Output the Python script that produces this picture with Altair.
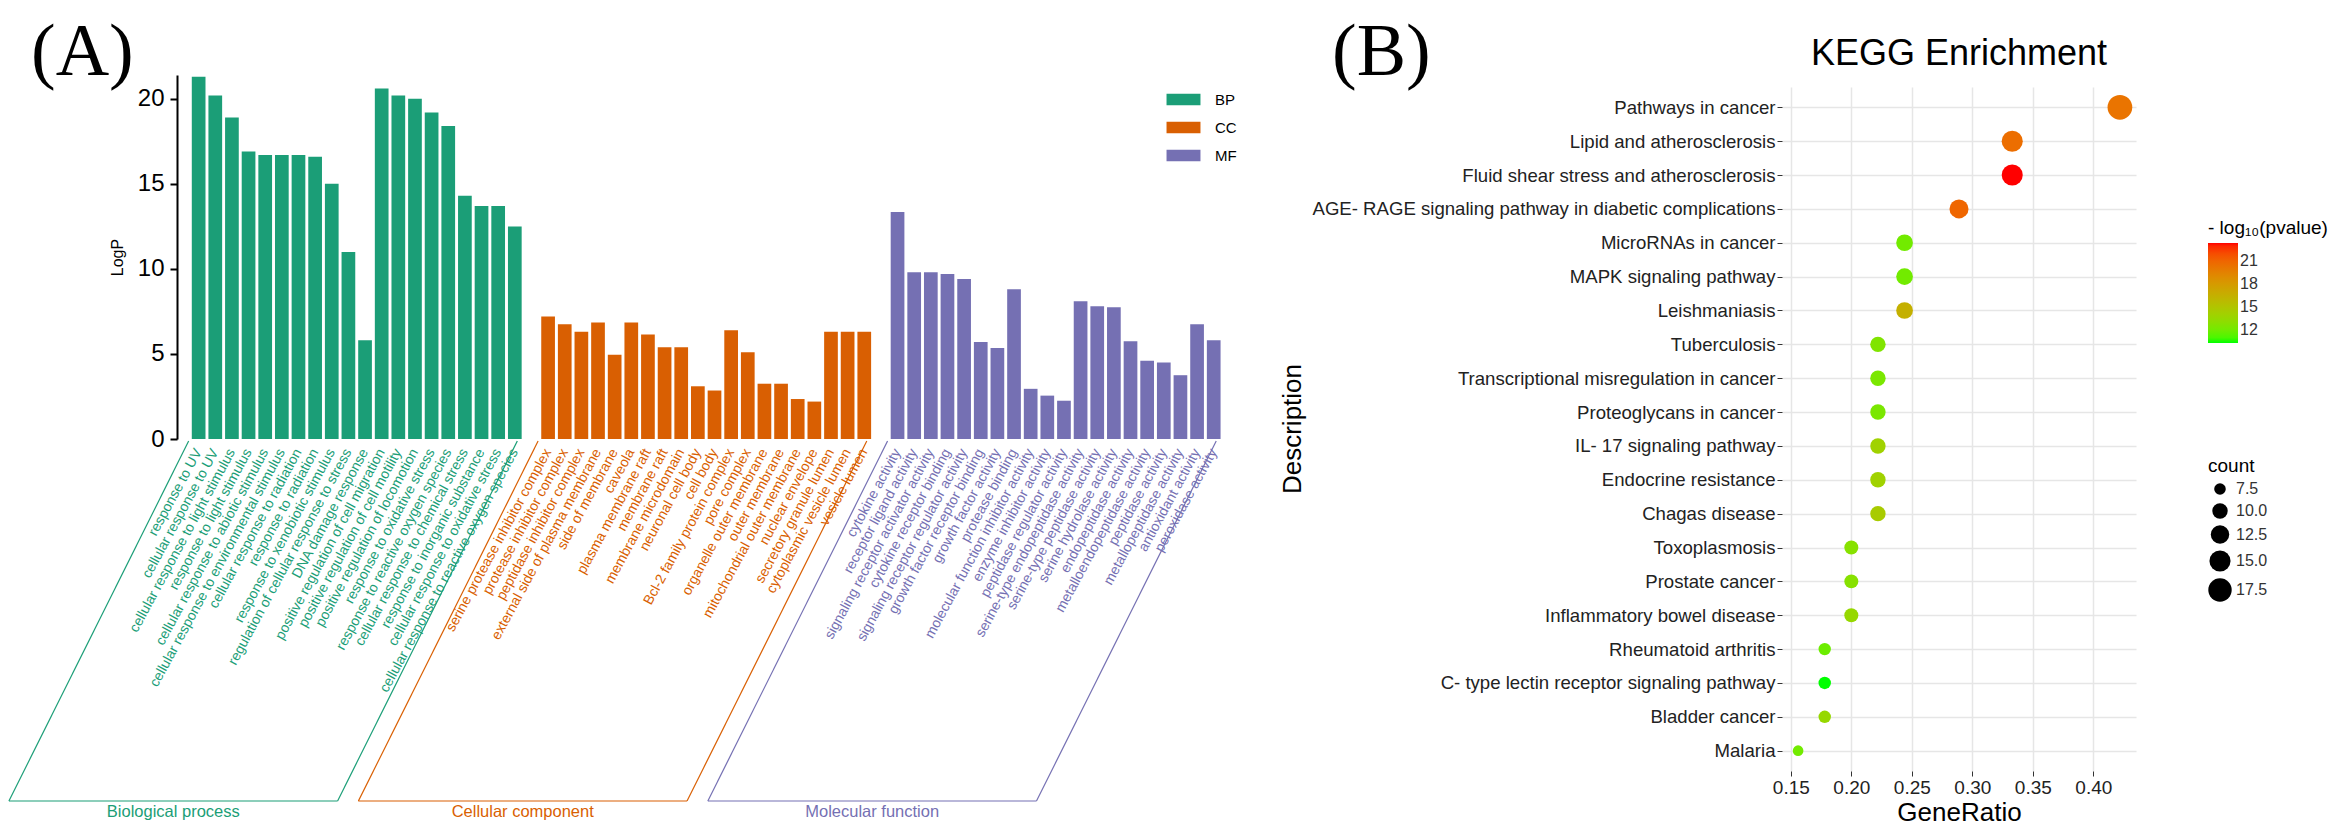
import altair as alt
import pandas as pd

# ---------------- Panel A : GO enrichment bars ----------------
bp_terms = ["response to UV", "cellular response to UV", "cellular response to light stimulus",
            "response to light stimulus", "cellular response to abiotic stimulus",
            "cellular response to environmental stimulus", "cellular response to radiation",
            "response to radiation", "response to xenobiotic stimulus",
            "regulation of cellular response to stress", "DNA damage response",
            "positive regulation of cell migration", "positive regulation of cell motility",
            "positive regulation of locomotion", "response to oxidative stress",
            "response to reactive oxygen species", "cellular response to chemical stress",
            "response to inorganic substance", "cellular response to oxidative stress",
            "cellular response to reactive oxygen species"]
bp_logp = [21.3, 20.2, 18.9, 16.9, 16.7, 16.7, 16.7, 16.6, 15.0, 11.0,
           5.8, 20.6, 20.2, 20.0, 19.2, 18.4, 14.3, 13.7, 13.7, 12.5]

cc_terms = ["serine protease inhibitor complex", "protease inhibitor complex",
            "peptidase inhibitor complex", "external side of plasma membrane", "side of membrane",
            "caveola", "plasma membrane raft", "membrane raft", "membrane microdomain",
            "neuronal cell body", "cell body", "Bcl-2 family protein complex", "pore complex",
            "organelle outer membrane", "outer membrane", "mitochondrial outer membrane",
            "nuclear envelope", "secretory granule lumen", "cytoplasmic vesicle lumen",
            "vesicle lumen"]
cc_logp = [7.2, 6.75, 6.3, 6.85, 4.95, 6.85, 6.15, 5.4, 5.4, 3.1,
           2.85, 6.4, 5.1, 3.25, 3.25, 2.35, 2.2, 6.3, 6.3, 6.3]

mf_terms = ["cytokine activity", "receptor ligand activity", "signaling receptor activator activity",
            "cytokine receptor binding", "signaling receptor regulator activity",
            "growth factor receptor binding", "growth factor activity", "protease binding",
            "molecular function inhibitor activity", "enzyme inhibitor activity",
            "peptidase regulator activity", "serine-type endopeptidase activity",
            "serine-type peptidase activity", "serine hydrolase activity", "endopeptidase activity",
            "metalloendopeptidase activity", "peptidase activity", "metallopeptidase activity",
            "antioxidant activity", "peroxidase activity"]
mf_logp = [13.35, 9.8, 9.8, 9.7, 9.4, 5.7, 5.35, 8.8, 2.95, 2.55,
           2.25, 8.1, 7.8, 7.75, 5.75, 4.6, 4.5, 3.75, 6.75, 5.8]

go_groups = ["BP", "CC", "MF"]
go_group_names = ["Biological process", "Cellular component", "Molecular function"]
go_colors = ["#1B9E77", "#D95F02", "#7570B3"]
y_ticks_a = [0, 5, 10, 15, 20]

# ---------------- Panel B : KEGG dot plot ----------------
kegg_terms = ["Pathways in cancer", "Lipid and atherosclerosis",
              "Fluid shear stress and atherosclerosis",
              "AGE- RAGE signaling pathway in diabetic complications", "MicroRNAs in cancer",
              "MAPK signaling pathway", "Leishmaniasis", "Tuberculosis",
              "Transcriptional misregulation in cancer", "Proteoglycans in cancer",
              "IL- 17 signaling pathway", "Endocrine resistance", "Chagas disease",
              "Toxoplasmosis", "Prostate cancer", "Inflammatory bowel disease",
              "Rheumatoid arthritis", "C- type lectin receptor signaling pathway",
              "Bladder cancer", "Malaria"]
kegg_ratio = [0.422, 0.333, 0.333, 0.289, 0.244, 0.244, 0.244, 0.222, 0.222, 0.222,
              0.222, 0.222, 0.222, 0.200, 0.200, 0.200, 0.178, 0.178, 0.178, 0.156]
kegg_count = [19, 15, 15, 13, 11, 11, 11, 10, 10, 10, 10, 10, 10, 9, 9, 9, 8, 8, 8, 7]
kegg_mlogp = [20.3, 20.6, 23.4, 21.0, 12.0, 12.0, 16.5, 12.5, 12.3, 12.3,
              14.0, 14.0, 14.5, 12.8, 12.8, 13.5, 11.8, 10.3, 13.5, 12.0]
x_ticks_b = [0.15, 0.20, 0.25, 0.30, 0.35, 0.40]
color_ticks_b = [12, 15, 18, 21]
size_ticks_b = [7.5, 10.0, 12.5, 15.0, 17.5]

FONT = "Liberation Sans"
SERIF = "Liberation Serif"

# ---- build GO table (one empty slot between categories)
rows, brackets = [], []
pos = 0
for g, name, terms, vals in zip(go_groups, go_group_names,
                                [bp_terms, cc_terms, mf_terms], [bp_logp, cc_logp, mf_logp]):
    first = pos
    for t, v in zip(terms, vals):
        rows.append({"group": g, "term": t, "logp": v, "pos": pos})
        pos += 1
    brackets.append({"group": g, "name": name, "first": first, "last": pos - 1})
    pos += 1
go_df = pd.DataFrame(rows)
br_df = pd.DataFrame(brackets)

A_W, A_H = 1075, 352
color_a = alt.Scale(domain=go_groups, range=go_colors)
xs_a = alt.Scale(domain=[-1, pos], nice=False, zero=False)
ys_a = alt.Scale(domain=[0, 21.4], range=[A_H, -12], nice=False)

bars = alt.Chart(go_df).mark_bar(size=13.7).encode(
    x=alt.X("pos:Q", scale=xs_a,
            axis=alt.Axis(values=go_df["pos"].tolist(), labels=False, title=None, grid=False,
                          tickSize=7, tickWidth=2, tickColor="black", domainWidth=2,
                          domainColor="black")),
    y=alt.Y("logp:Q", scale=ys_a,
            axis=alt.Axis(values=y_ticks_a, title="LogP", titleFontSize=16,
                          titleFontWeight="normal", titleColor="black", titlePadding=12,
                          labelFontSize=24, labelColor="black", labelPadding=6, grid=False,
                          tickSize=7, tickWidth=2, tickColor="black", domainWidth=2,
                          domainColor="black")),
    color=alt.Color("group:N", scale=color_a,
                    legend=alt.Legend(title=None, orient="none", legendX=999, legendY=5,
                                      symbolType="M-2.9,-1H2.9V1H-2.9Z", symbolSize=137,
                                      symbolStrokeWidth=0, labelFontSize=15, labelColor="black",
                                      labelOffset=24, rowPadding=12, padding=0)),
)

labels_a = alt.Chart(go_df).mark_text(angle=298.5, align="right", baseline="middle",
                                      fontSize=14, font=FONT).encode(
    x=alt.X("pos:Q", scale=xs_a, axis=None),
    y=alt.value(A_H + 11),
    text="term:N",
    color=alt.Color("group:N", scale=color_a, legend=None),
)

br = alt.Chart(br_df).transform_calculate(
    lt="datum.first - 0.6", rt="datum.last + 0.15",
).transform_calculate(
    lb="datum.lt - 10.8", rb="datum.rt - 10.8",
).transform_calculate(mid="(datum.lb + datum.rb) / 2")

br_left = br.mark_rule(strokeWidth=1.2).encode(
    x=alt.X("lt:Q", scale=xs_a, axis=None), x2="lb:Q",
    y=alt.value(A_H + 2), y2=alt.value(A_H + 362),
    color=alt.Color("group:N", scale=color_a, legend=None))
br_right = br.mark_rule(strokeWidth=1.2).encode(
    x=alt.X("rt:Q", scale=xs_a, axis=None), x2="rb:Q",
    y=alt.value(A_H + 2), y2=alt.value(A_H + 362),
    color=alt.Color("group:N", scale=color_a, legend=None))
br_bottom = br.mark_rule(strokeWidth=1.2).encode(
    x=alt.X("lb:Q", scale=xs_a, axis=None), x2="rb:Q",
    y=alt.value(A_H + 362),
    color=alt.Color("group:N", scale=color_a, legend=None))
br_text = br.mark_text(fontSize=16.5, font=FONT, baseline="middle").encode(
    x=alt.X("mid:Q", scale=xs_a, axis=None),
    y=alt.value(A_H + 373),
    text="name:N",
    color=alt.Color("group:N", scale=color_a, legend=None))

tag_a = alt.Chart(pd.DataFrame({"t": ["(A)"]})).mark_text(
    font=SERIF, fontSize=74, align="left", baseline="alphabetic", color="black").encode(
    text="t:N", x=alt.value(-146), y=alt.value(-12))

panel_a = alt.layer(bars, labels_a, br_left, br_right, br_bottom, br_text, tag_a).properties(
    width=A_W, height=A_H)

# ---- Panel B
kegg_df = pd.DataFrame({"Description": kegg_terms, "GeneRatio": kegg_ratio,
                        "count": kegg_count, "mlogp": kegg_mlogp})
B_W, B_H = 354, 684

points = alt.Chart(kegg_df).mark_circle(opacity=1).encode(
    x=alt.X("GeneRatio:Q", scale=alt.Scale(domain=[0.1427, 0.4353], nice=False, zero=False),
            axis=alt.Axis(values=x_ticks_b, format=".2f", title="GeneRatio", titleFontSize=26,
                          titleFontWeight="normal", titleColor="black", titlePadding=2,
                          labelFontSize=19, labelColor="#222222", tickSize=5,
                          tickColor="#333333", domain=False, grid=True, gridColor="#E6E6E6",
                          gridWidth=1.5)),
    y=alt.Y("Description:N", sort=kegg_terms, scale=alt.Scale(padding=0.6),
            axis=alt.Axis(title=None, labelFontSize=18.6,
                          labelColor="#222222", tickSize=5, tickColor="#333333", domain=False,
                          grid=True, gridColor="#E6E6E6", gridWidth=1.5, labelLimit=800)),
    color=alt.Color("mlogp:Q",
                    scale=alt.Scale(domain=[10.3, 23.4], range=["#00FF00", "#FF0000"],
                                    interpolate="lab"),
                    legend=alt.Legend(title="- log₁₀(pvalue)", values=color_ticks_b,
                                      orient="none", legendX=426, legendY=132,
                                      gradientLength=100, gradientThickness=30,
                                      titleFontSize=19, titleFontWeight="normal",
                                      titleColor="black", labelFontSize=16, labelColor="#333333",
                                      padding=0)),
    size=alt.Size("count:Q", scale=alt.Scale(domain=[7, 19], range=[113, 610]),
                  legend=alt.Legend(title="count", values=size_ticks_b, format=".1f",
                                    orient="none", legendX=426, legendY=370,
                                    symbolFillColor="black", symbolStrokeWidth=0,
                                    titleFontSize=19, titleFontWeight="normal",
                                    titleColor="black", labelFontSize=16, labelColor="#333333",
                                    rowPadding=6, padding=0)),
)

desc_title = alt.Chart(pd.DataFrame({"t": ["Description"]})).mark_text(
    fontSize=26, angle=270, align="center", baseline="middle", color="black", font=FONT).encode(
    text="t:N", x=alt.value(-489), y=alt.value(B_H / 2))

main_title = alt.Chart(pd.DataFrame({"t": ["KEGG Enrichment"]})).mark_text(
    fontSize=36, align="center", baseline="alphabetic", color="black", font=FONT).encode(
    text="t:N", x=alt.value(B_W / 2), y=alt.value(-22))

tag_b = alt.Chart(pd.DataFrame({"t": ["(B)"]})).mark_text(
    font=SERIF, fontSize=74, align="left", baseline="alphabetic", color="black").encode(
    text="t:N", x=alt.value(-450), y=alt.value(-12))

panel_b = alt.layer(points, desc_title, main_title, tag_b).properties(width=B_W, height=B_H)

chart = alt.hconcat(panel_a, panel_b, spacing=530, bounds="flush").resolve_scale(
    color="independent", size="independent"
).properties(padding={"top": 8, "left": 0, "right": 0, "bottom": 0}
).configure(font=FONT).configure_view(strokeWidth=0)

chart.save("out.html", embed_options={"renderer": "svg", "actions": False})
